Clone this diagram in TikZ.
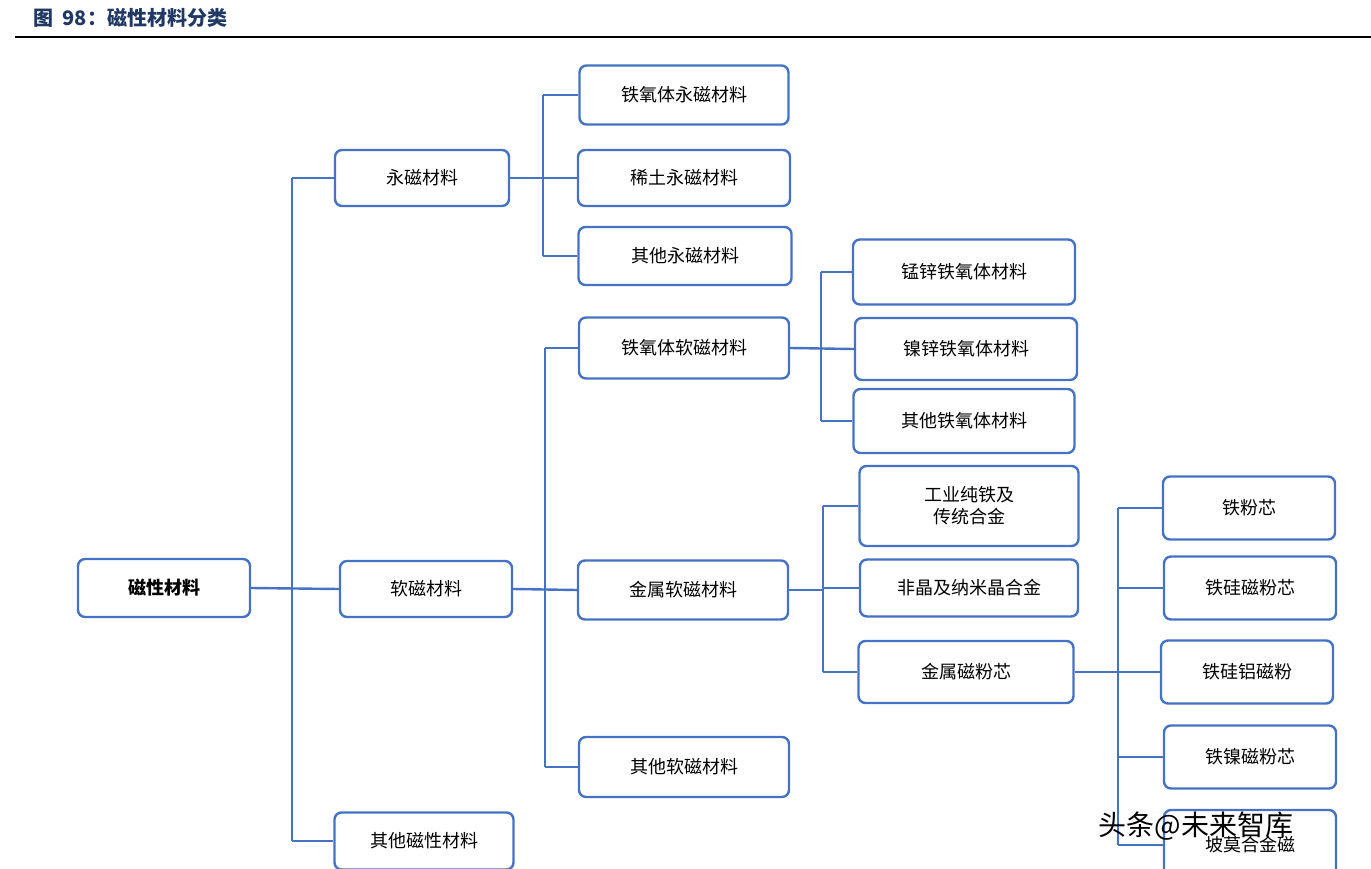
\documentclass[tikz,border=0pt]{standalone}
\usepackage{fontspec}
\setmainfont{Noto Sans CJK SC}
\definecolor{bl}{HTML}{4472C4}
\definecolor{tt}{HTML}{1F3864}
\begin{document}
\begin{tikzpicture}[x=1pt,y=-1pt,
 box/.style={draw=bl,line width=2.4pt,rounded corners=7pt,align=center,font=\fontsize{18}{22}\selectfont,inner sep=0pt},
 ln/.style={draw=bl,line width=2.4pt}]
\useasboundingbox (0,0) rectangle (1371,869);
\begin{scope}
\clip (0,0) rectangle (1371,869);
\node[anchor=west,font=\bfseries\fontsize{20}{24}\selectfont,text=tt] (title) at (30,18) {图\ \ 98：磁性材料分类};
\draw[line width=2pt] (15,37) -- (1371,37);
\node[box,minimum width=172,minimum height=58,font=\bfseries\fontsize{18}{22}\selectfont] (root) at (164,588) {磁性材料};
\node[box,minimum width=174,minimum height=56] (pm) at (422,178) {永磁材料};
\node[box,minimum width=172,minimum height=56] (sm) at (426,589) {软磁材料};
\node[box,minimum width=179,minimum height=57] (om) at (424,841) {其他磁性材料};
\node[box,minimum width=209,minimum height=59] (a1) at (684,95) {铁氧体永磁材料};
\node[box,minimum width=212,minimum height=56] (a2) at (684,178) {稀土永磁材料};
\node[box,minimum width=213,minimum height=58] (a3) at (685,256) {其他永磁材料};
\node[box,minimum width=210,minimum height=61] (b1) at (684,348) {铁氧体软磁材料};
\node[box,minimum width=210,minimum height=59] (b2) at (683,590) {金属软磁材料};
\node[box,minimum width=210,minimum height=60] (b3) at (684,767) {其他软磁材料};
\node[box,minimum width=222,minimum height=65] (c1) at (964,272) {锰锌铁氧体材料};
\node[box,minimum width=222,minimum height=62] (c2) at (966,349) {镍锌铁氧体材料};
\node[box,minimum width=221,minimum height=64] (c3) at (964,421) {其他铁氧体材料};
\node[box,minimum width=219,minimum height=80] (d1) at (969,506) {工业纯铁及\\传统合金};
\node[box,minimum width=218,minimum height=57] (d2) at (969,588) {非晶及纳米晶合金};
\node[box,minimum width=215,minimum height=62] (d3) at (966,672) {金属磁粉芯};
\node[box,minimum width=172,minimum height=63] (e1) at (1249,508) {铁粉芯};
\node[box,minimum width=172,minimum height=63] (e2) at (1250,588) {铁硅磁粉芯};
\node[box,minimum width=172,minimum height=63] (e3) at (1247,672) {铁硅铝磁粉};
\node[box,minimum width=172,minimum height=63] (e4) at (1250,757) {铁镍磁粉芯};
\node[box,minimum width=172,minimum height=70] (e5) at (1250,845) {坡莫合金磁};
\coordinate (t0) at (292,0);
\coordinate (t1) at (543,0);
\coordinate (t2) at (545,0);
\coordinate (t3) at (821,0);
\coordinate (t4) at (823,0);
\coordinate (t5) at (1118,0);
% root
\draw[ln] (root.east) -- (sm.west);
\draw[ln] (t0 |- pm.west) -- (t0 |- om.west);
\draw[ln] (t0 |- pm.west) -- (pm.west);
\draw[ln] (t0 |- om.west) -- (om.west);
% pm
\draw[ln] (pm.east) -- (a2.west);
\draw[ln] (t1 |- a1.west) -- (t1 |- a3.west);
\draw[ln] (t1 |- a1.west) -- (a1.west);
\draw[ln] (t1 |- a3.west) -- (a3.west);
% sm
\draw[ln] (sm.east) -- (b2.west);
\draw[ln] (t2 |- b1.west) -- (t2 |- b3.west);
\draw[ln] (t2 |- b1.west) -- (b1.west);
\draw[ln] (t2 |- b3.west) -- (b3.west);
% b1
\draw[ln] (b1.east) -- (c2.west);
\draw[ln] (t3 |- c1.west) -- (t3 |- c3.west);
\draw[ln] (t3 |- c1.west) -- (c1.west);
\draw[ln] (t3 |- c3.west) -- (c3.west);
% b2
\draw[ln] (b2.east) -- (t4 |- b2.east);
\draw[ln] (t4 |- d1.west) -- (t4 |- d3.west);
\draw[ln] (t4 |- d1.west) -- (d1.west);
\draw[ln] (t4 |- d2.west) -- (d2.west);
\draw[ln] (t4 |- d3.west) -- (d3.west);
% d3
\draw[ln] (d3.east) -- (e3.west);
\draw[ln] (t5 |- e1.west) -- (t5 |- e5.west);
\draw[ln] (t5 |- e1.west) -- (e1.west);
\draw[ln] (t5 |- e2.west) -- (e2.west);
\draw[ln] (t5 |- e4.west) -- (e4.west);
\draw[ln] (t5 |- e5.west) -- (e5.west);
\node[anchor=west,font=\fontsize{28}{32}\selectfont] (wm) at (1095,826) {头条@未来智库};
\end{scope}
\end{tikzpicture}
\end{document}
